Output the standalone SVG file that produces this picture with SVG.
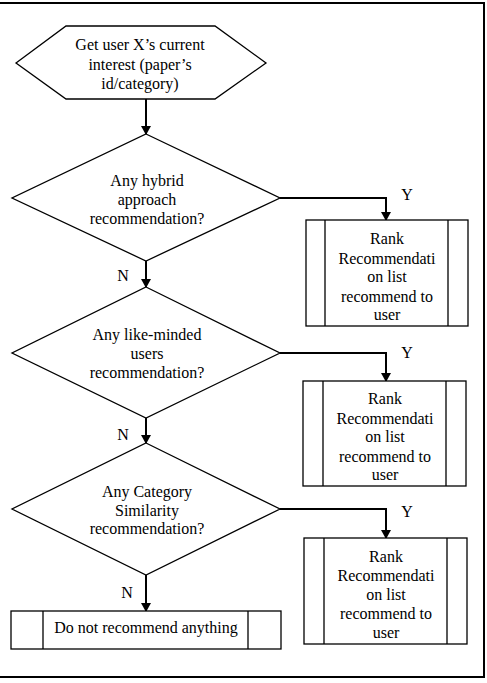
<svg xmlns="http://www.w3.org/2000/svg" width="487" height="683" viewBox="0 0 487 683">
<defs>
<marker id="ah" markerWidth="10" markerHeight="10" refX="8" refY="5" orient="auto" markerUnits="userSpaceOnUse">
<path d="M0,0 L9,5 L0,10 Z" fill="#000"/>
</marker>
<style>
.s{fill:#fff;stroke:#000;stroke-width:1.3}
.l{fill:none;stroke:#000;stroke-width:1.3}
.c{fill:none;stroke:#000;stroke-width:2}
text{font-family:"Liberation Serif","Times New Roman","DejaVu Serif",serif;font-size:16px;fill:#000;text-anchor:middle}
</style>
</defs>
<rect width="487" height="683" fill="#fff"/>
<path d="M0,3 H484 V677 H0" fill="none" stroke="#000" stroke-width="2"/>
<g id="connectors">
<path class="c" d="M146,99 V134" marker-end="url(#ah)"/>
<path class="c" d="M280,198 H386 V220" marker-end="url(#ah)"/>
<path class="c" d="M146,261 V287" marker-end="url(#ah)"/>
<path class="c" d="M280,353 H386 V381" marker-end="url(#ah)"/>
<path class="c" d="M146,418 V443" marker-end="url(#ah)"/>
<path class="c" d="M280,509 H386 V538" marker-end="url(#ah)"/>
<path class="c" d="M146,575 V611" marker-end="url(#ah)"/>
<text x="407" y="200">Y</text>
<text x="123" y="281">N</text>
<text x="407" y="358">Y</text>
<text x="123" y="440">N</text>
<text x="407" y="517">Y</text>
<text x="127" y="598">N</text>
</g>
<g id="start">
<polygon class="s" points="16,63 66,26 215,26 266,63 215,99 66,99"/>
<text x="140" y="50">Get user X’s current</text>
<text x="140" y="70">interest (paper’s</text>
<text x="140" y="89">id/category)</text>
</g>
<g id="d1">
<polygon class="s" points="146,134 280,198 146,261 12,198"/>
<text x="147" y="186">Any hybrid</text>
<text x="147" y="205">approach</text>
<text x="147" y="224">recommendation?</text>
</g>
<g id="r1">
<rect class="s" x="306" y="220" width="162" height="106"/>
<path class="l" d="M325,220 V326 M448,220 V326"/>
<text x="387" y="244">Rank</text>
<text x="387" y="264">Recommendati</text>
<text x="387" y="282">on list</text>
<text x="387" y="302">recommend to</text>
<text x="387" y="320">user</text>
</g>
<g id="d2">
<polygon class="s" points="146,287 280,353 146,418 12,353"/>
<text x="147" y="340">Any like-minded</text>
<text x="147" y="359">users</text>
<text x="147" y="378">recommendation?</text>
</g>
<g id="r2">
<rect class="s" x="303" y="381" width="163" height="105"/>
<path class="l" d="M323,381 V486 M446,381 V486"/>
<text x="385" y="404">Rank</text>
<text x="385" y="424">Recommendati</text>
<text x="385" y="442">on list</text>
<text x="385" y="462">recommend to</text>
<text x="385" y="480">user</text>
</g>
<g id="d3">
<polygon class="s" points="146,443 280,509 146,575 12,509"/>
<text x="147" y="497">Any Category</text>
<text x="147" y="516">Similarity</text>
<text x="147" y="534">recommendation?</text>
</g>
<g id="r3">
<rect class="s" x="304" y="538" width="163" height="106"/>
<path class="l" d="M324,538 V644 M447,538 V644"/>
<text x="386" y="562">Rank</text>
<text x="386" y="581">Recommendati</text>
<text x="386" y="600">on list</text>
<text x="386" y="619">recommend to</text>
<text x="386" y="638">user</text>
</g>
<g id="end">
<rect class="s" x="11" y="611" width="270" height="38"/>
<path class="l" d="M43,611 V649 M248,611 V649"/>
<text x="146" y="633">Do not recommend anything</text>
</g>
</svg>
